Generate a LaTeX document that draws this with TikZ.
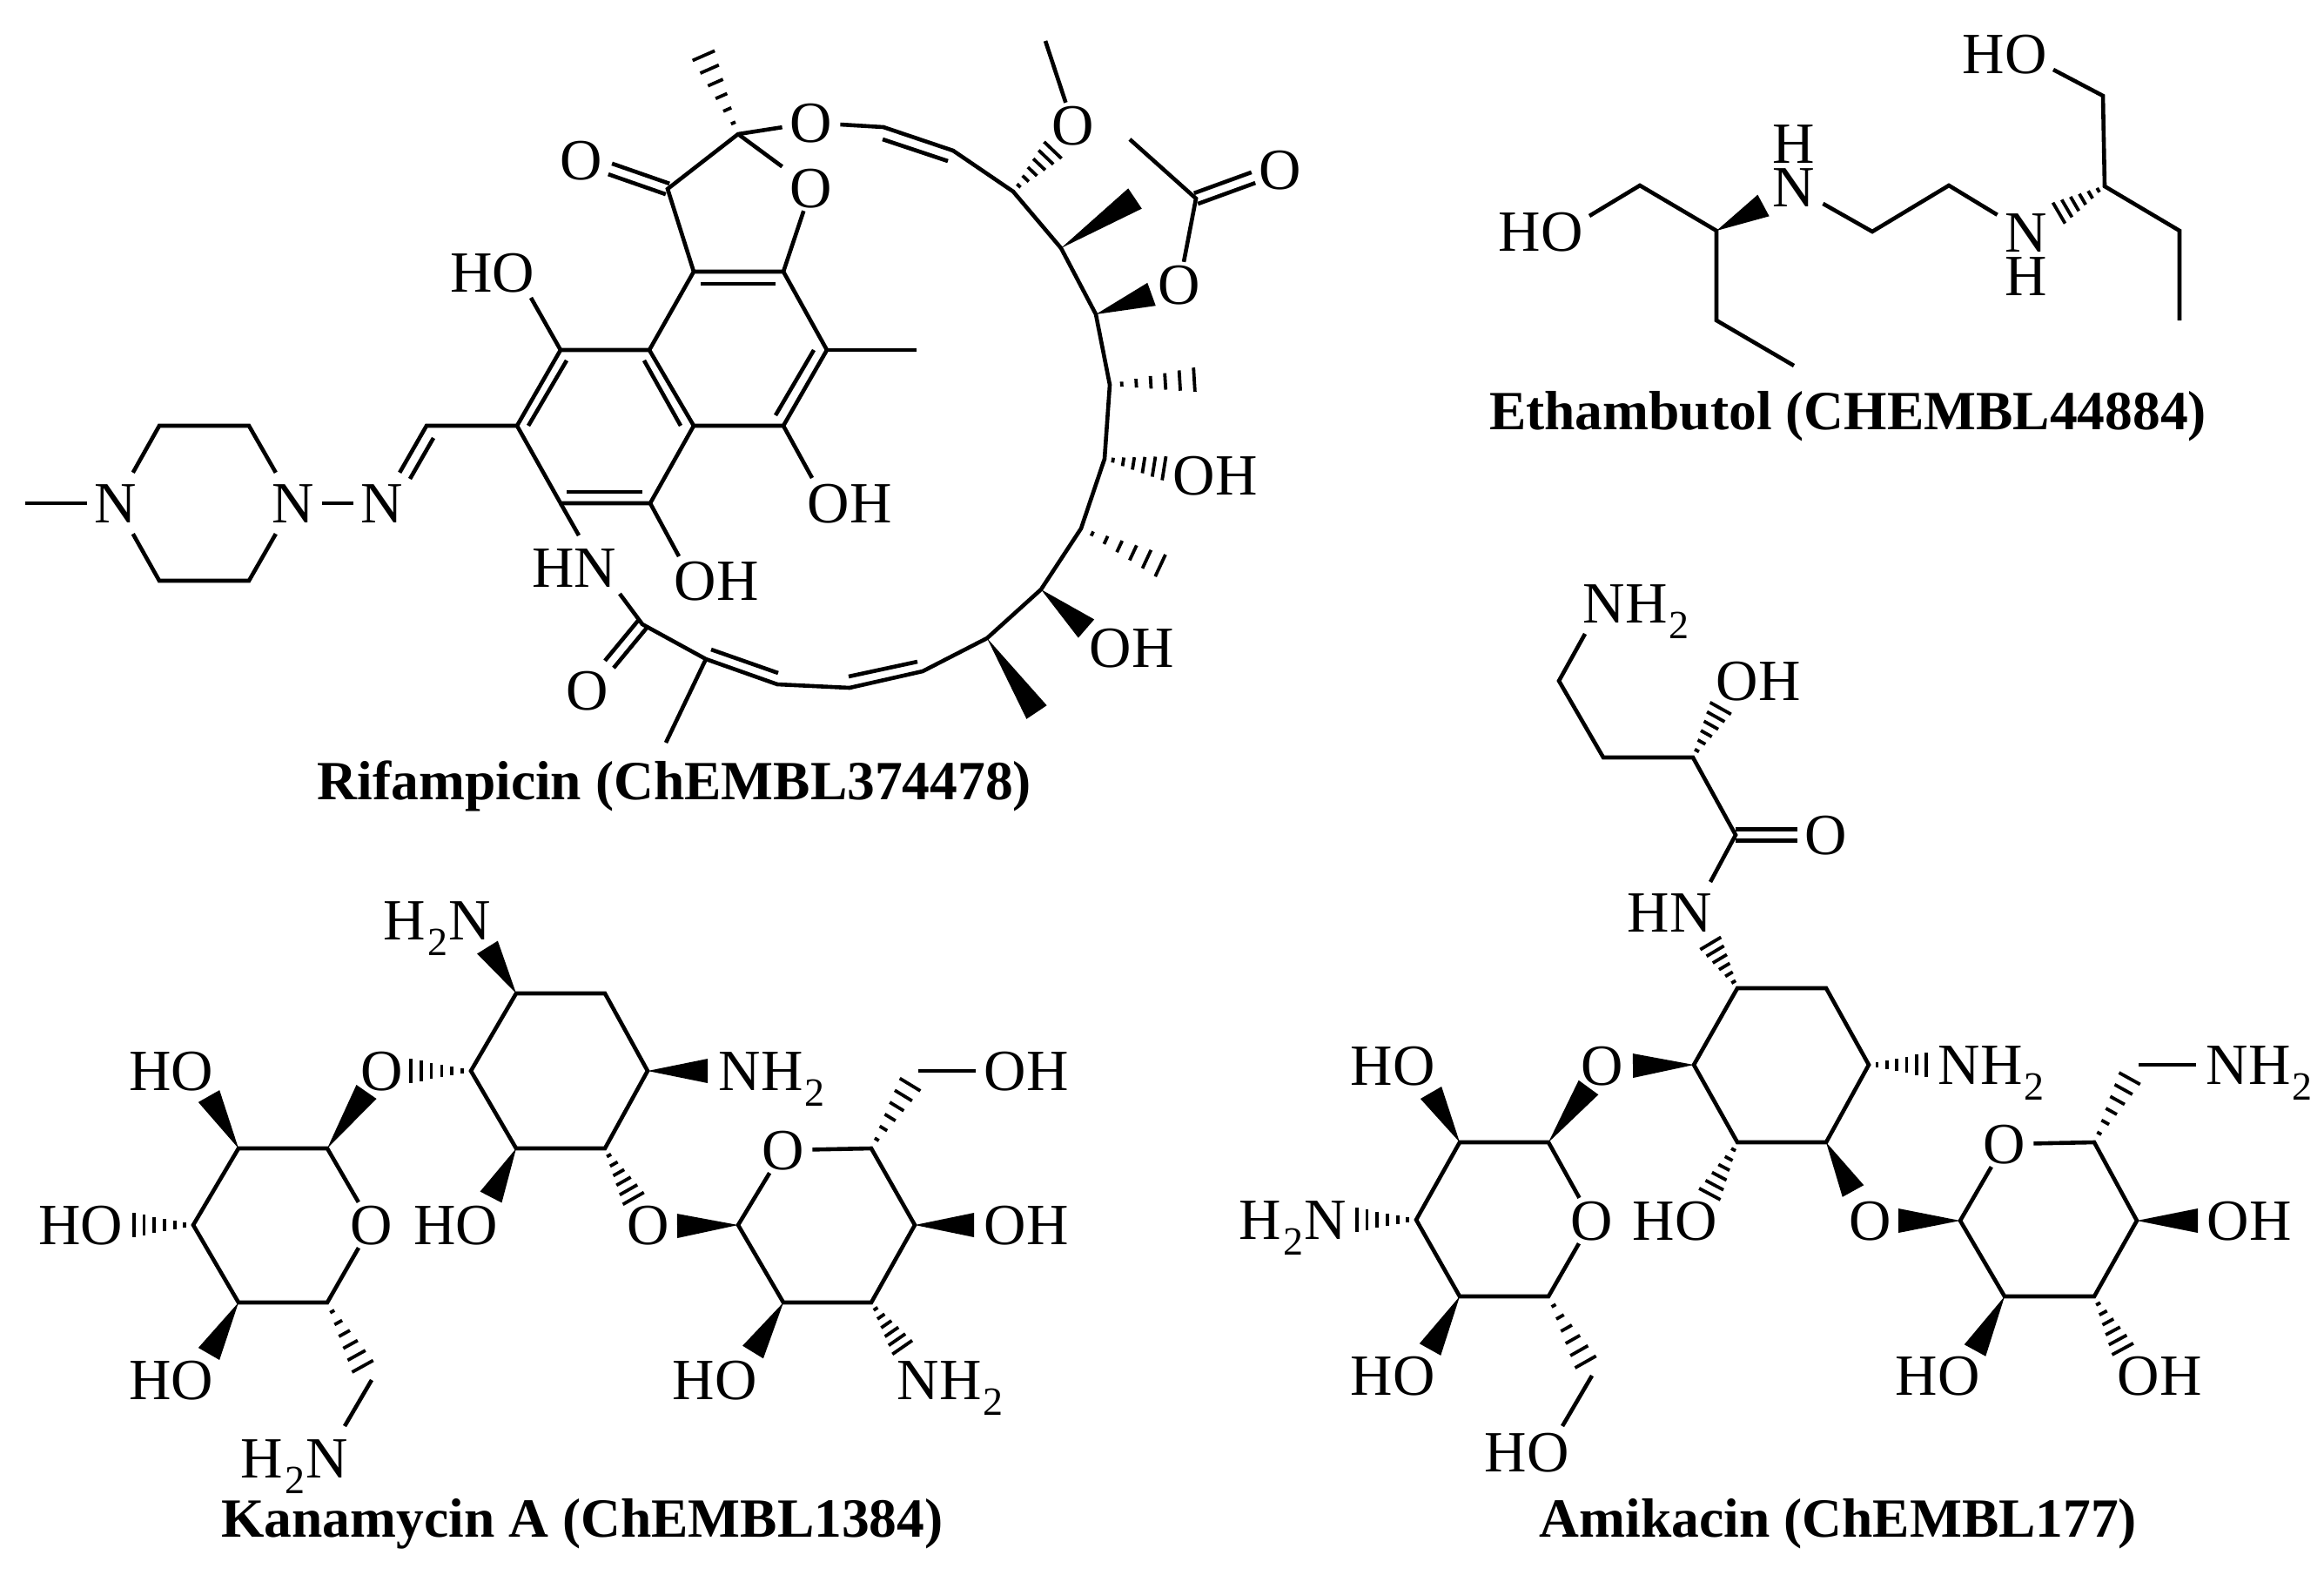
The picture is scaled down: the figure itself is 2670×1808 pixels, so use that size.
\documentclass[tikz,border=0pt]{standalone}
\usepackage{fontspec}
\setmainfont{Liberation Serif}
\usetikzlibrary{calc}

\newcommand{\subtwo}{\kern2pt\raisebox{-18pt}{\fontsize{46}{46}\selectfont 2}\kern1pt}
\newcommand{\wedgebond}[2]{\fill ($(#2)!14pt!90:(#1)$) -- (#1) -- ($(#2)!14pt!-90:(#1)$) -- cycle;}
\newcommand{\hashbond}[2]{%
    \foreach \t in {0.14,0.31,0.48,0.65,0.82,0.99} {
        \pgfmathsetmacro{\hw}{1+13*\t}
        \draw[hashline] ($(#1)!\t!(#2)!\hw pt!90:(#1)$) -- ($(#1)!\t!(#2)!\hw pt!-90:(#1)$);
    }}
\newcommand{\twinbond}[2]{%
    \draw[bond] ($(#1)!6.5pt!90:(#2)$) -- ($(#2)!6.5pt!-90:(#1)$);
    \draw[bond] ($(#1)!6.5pt!-90:(#2)$) -- ($(#2)!6.5pt!90:(#1)$);}

\tikzset{
    bond/.style={line width=4.6pt, line join=miter},
    hashline/.style={line width=3.8pt},
    atom/.style={inner xsep=9pt, inner ysep=4pt, text height=44pt, text depth=0pt, font=\fontsize{67}{67}\selectfont},
    atomn/.style={atom, inner ysep=13pt},
    title/.style={inner sep=0pt, anchor=base, font=\fontsize{63.5}{63.5}\selectfont\bfseries},
}

\begin{document}
\begin{tikzpicture}[x=1pt, y=-1pt]
    \useasboundingbox (0,0) rectangle (2670,1808);

    % rifampicin
    \coordinate (r1) at (767,217);
    \coordinate (r2) at (848,154);
    \coordinate (r3) at (1015,146);
    \coordinate (r4) at (1095,173);
    \coordinate (r5) at (1164,220);
    \coordinate (r6) at (1219,285);
    \coordinate (r7) at (1259,361);
    \coordinate (r8) at (1275,442);
    \coordinate (r9) at (1269,527);
    \coordinate (r10) at (1242,607);
    \coordinate (r11) at (1196,677);
    \coordinate (r12) at (1134,733);
    \coordinate (r13) at (1060,771);
    \coordinate (r14) at (976,790);
    \coordinate (r15) at (893,786);
    \coordinate (r16) at (811,757);
    \coordinate (r17) at (738,717);
    \coordinate (r20) at (797,312);
    \coordinate (r21) at (900,312);
    \coordinate (r22) at (950,402);
    \coordinate (r23) at (900,489);
    \coordinate (r24) at (797,489);
    \coordinate (r25) at (746,402);
    \coordinate (r26) at (644,402);
    \coordinate (r27) at (594,489);
    \coordinate (r28) at (644,578);
    \coordinate (r29) at (747,578);
    \coordinate (r30) at (490,489);
    \coordinate (p1) at (183,489);
    \coordinate (p2) at (286,489);
    \coordinate (p3) at (286,667);
    \coordinate (p4) at (183,667);
    \coordinate (rAc) at (1374,228);

    \node[atom] at (668,184) (rO0) {O};
    \node[atom] at (932,141) (rO1) {O};
    \node[atom] at (932,216) (rO2) {O};
    \node[atom] at (1233,144) (rO3) {O};
    \node[atom] at (1355,327) (rO4) {O};
    \node[atom] at (1471,195) (rO5) {O};
    \node[atom] at (675,793) (rO6) {O};
    \node[atom] at (566,313) (rOH1) {HO};
    \node[atom] at (976,578) (rOH2) {OH};
    \node[atom] at (823,667) (rOH3) {OH};
    \node[atom] at (1300,744) (rOH4) {OH};
    \node[atom] at (1396,546) (rOH5) {OH};
    \node[atom] at (660,652) (rNH) {HN};
    \node[atomn] at (133,578) (rN1) {N};
    \node[atomn] at (337,578) (rN2) {N};
    \node[atomn] at (439,578) (rN3) {N};

    \coordinate (rCO0) at (701,194);
    \coordinate (rCO5) at (1440,204);
    \coordinate (rCO6) at (700,763);
    \coordinate (rMe1) at (808,63);
    \coordinate (rMe2) at (1201,47);
    \coordinate (rMe3) at (1298,160);
    \coordinate (rMe4) at (1053,402);
    \coordinate (rMe5) at (1373,436);
    \coordinate (rMe6) at (1334,650);
    \coordinate (rMe7) at (1191,818);
    \coordinate (rMe8) at (765,853);
    \coordinate (rMe9) at (1304,228);
    \coordinate (rMe0) at (29,578);
    \coordinate (rHa1) at (1210,172);
    \coordinate (rWe1) at (1323,338);
    \coordinate (rWe2) at (1248,722);
    \coordinate (rHa2) at (1338,538);
    \coordinate (rE1) at (610,342);
    \coordinate (rE2) at (933,549);
    \coordinate (rE3) at (780,639);
    \coordinate (rE4) at (665,615);
    \coordinate (rE5) at (712,682);

    \coordinate (i1a) at (805,326);
    \coordinate (i1b) at (891,326);
    \coordinate (i2a) at (935,402);
    \coordinate (i2b) at (891,477);
    \coordinate (i3a) at (740,414);
    \coordinate (i3b) at (782,489);
    \coordinate (i4a) at (651,414);
    \coordinate (i4b) at (607,489);
    \coordinate (i5a) at (651,565);
    \coordinate (i5b) at (738,565);
    \coordinate (i6a) at (498,503);
    \coordinate (i6b) at (471,550);
    \coordinate (i7a) at (1014,160);
    \coordinate (i7b) at (1089,185);
    \coordinate (i8a) at (817,746);
    \coordinate (i8b) at (894,773);
    \coordinate (i9a) at (975,777);
    \coordinate (i9b) at (1054,760);

    \draw[bond] (r20) -- (r1) -- (r2) -- (rO1) -- (r3) -- (r4) -- (r5) -- (r6) -- (r7) -- (r8) -- (r9) -- (r10) -- (r11) -- (r12) -- (r13) -- (r14) -- (r15) -- (r16) -- (r17) -- (rE5);
    \draw[bond] (r2) -- (rO2) -- (r21);
    \draw[bond] (r20) -- (r21) -- (r22) -- (r23) -- (r24) -- (r25) -- cycle;
    \draw[bond] (r25) -- (r26) -- (r27) -- (r28) -- (r29) -- (r24);
    \draw[bond] (r22) -- (rMe4);
    \draw[bond] (r26) -- (rE1);
    \draw[bond] (r23) -- (rE2);
    \draw[bond] (r29) -- (rE3);
    \draw[bond] (r28) -- (rE4);
    \draw[bond] (r16) -- (rMe8);
    \draw[bond] (rO3) -- (rMe2);
    \draw[bond] (rO4) -- (rAc) -- (rMe3);
    \draw[bond] (rN3) -- (r30) -- (r27);
    \draw[bond] (rN2) -- (rN3);
    \draw[bond] (rMe0) -- (rN1);
    \draw[bond] (rN1) -- (p1) -- (p2) -- (rN2);
    \draw[bond] (rN1) -- (p4) -- (p3) -- (rN2);
    \foreach \n in {1,...,9} {
        \draw[bond] (i\n a) -- (i\n b);
    }
    \twinbond{r1}{rCO0}
    \twinbond{rAc}{rCO5}
    \twinbond{r17}{rCO6}
    \hashbond{r2}{rMe1}
    \hashbond{r5}{rHa1}
    \hashbond{r8}{rMe5}
    \hashbond{r9}{rHa2}
    \hashbond{r10}{rMe6}
    \wedgebond{r6}{rMe9}
    \wedgebond{r7}{rWe1}
    \wedgebond{r11}{rWe2}
    \wedgebond{r12}{rMe7}
    \node[title] at (775,918) (rName) {Rifampicin (ChEMBL374478)};

    % ethambutol
    \coordinate (e1) at (1884,213);
    \coordinate (e2) at (1972,265);
    \coordinate (e3) at (1972,368);
    \coordinate (e4) at (2061,420);
    \coordinate (e5) at (2151,266);
    \coordinate (e6) at (2239,213);
    \coordinate (e7) at (2418,214);
    \coordinate (e8) at (2416,110);
    \coordinate (e9) at (2504,265);
    \coordinate (e10) at (2504,368);
    \coordinate (eWe) at (2026,236);
    \coordinate (eHa) at (2365,245);
    \coordinate (eE1) at (1826,248);
    \coordinate (eE2) at (2359,80);
    \node[atom] at (1770,266) (eOH1) {HO};
    \node[atom] at (2303,62) (eOH2) {HO};
    \node[atom] at (2061,215) (eN1) {N};
    \node[atom] at (2061,165) (eH1) {H};
    \node[atom] at (2328,267) (eN2) {N};
    \node[atom] at (2328,317) (eH2) {H};
    \draw[bond] (eE1) -- (e1) -- (e2) -- (e3) -- (e4);
    \draw[bond] (eN1) -- (e5) -- (e6) -- (eN2);
    \draw[bond] (eE2) -- (e8) -- (e7) -- (e9) -- (e10);
    \wedgebond{e2}{eWe}
    \hashbond{e7}{eHa}
    \node[title] at (2123,493) (eName) {Ethambutol (CHEMBL44884)};

    % kanamycin
    \coordinate (k1) at (593,1141);
    \coordinate (k2) at (695,1141);
    \coordinate (k3) at (744,1230);
    \coordinate (k4) at (695,1319);
    \coordinate (k5) at (593,1319);
    \coordinate (k6) at (541,1230);
    \coordinate (kl1) at (376,1319);
    \coordinate (kl2) at (274,1319);
    \coordinate (kl3) at (222,1407);
    \coordinate (kl4) at (274,1496);
    \coordinate (kl5) at (376,1496);
    \coordinate (kr1) at (1001,1319);
    \coordinate (kr2) at (1051,1407);
    \coordinate (kr3) at (1001,1496);
    \coordinate (kr4) at (900,1496);
    \coordinate (kr5) at (848,1407);
    \node[atom] at (502,1057) (kN1) {H\subtwo N};
    \node[atom] at (887,1230) (kN2) {NH\subtwo};
    \node[atom] at (439,1230) (kO1) {O};
    \node[atom] at (427,1407) (kO2) {O};
    \node[atom] at (745,1407) (kO3) {O};
    \node[atom] at (900,1321) (kO4) {O};
    \node[atom] at (197,1230) (kOH1) {HO};
    \node[atom] at (93,1407) (kOH2) {HO};
    \node[atom] at (197,1585) (kOH3) {HO};
    \node[atom] at (524,1407) (kOH4) {HO};
    \node[atom] at (821,1585) (kOH5) {HO};
    \node[atom] at (1179,1230) (kOH6) {OH};
    \node[atom] at (1179,1407) (kOH7) {OH};
    \node[atom] at (338,1675) (kN3) {H\subtwo N};
    \node[atom] at (1092,1585) (kN4) {NH\subtwo};
    \coordinate (kW1) at (560,1088);
    \coordinate (kW2) at (421,1254);
    \coordinate (kW3) at (240,1259);
    \coordinate (kW4) at (240,1555);
    \coordinate (kW5) at (564,1375);
    \coordinate (kW6) at (778,1408);
    \coordinate (kW7) at (1119,1407);
    \coordinate (kW8) at (865,1553);
    \coordinate (kW9) at (813,1230);
    \coordinate (kH1) at (471,1230);
    \coordinate (kH2) at (153,1407);
    \coordinate (kH3) at (417,1570);
    \coordinate (kH4) at (728,1377);
    \coordinate (kH5) at (1037,1548);
    \coordinate (kH6) at (1046,1245);
    \coordinate (kC1) at (427,1585);
    \coordinate (kC2) at (396,1638);
    \coordinate (kC3) at (1055,1230);
    \draw[bond] (k1) -- (k2) -- (k3) -- (k4) -- (k5) -- (k6) -- cycle;
    \draw[bond] (kO2) -- (kl1) -- (kl2) -- (kl3) -- (kl4) -- (kl5) -- (kO2);
    \draw[bond] (kO4) -- (kr1) -- (kr2) -- (kr3) -- (kr4) -- (kr5) -- (kO4);
    \draw[bond] (kC1) -- (kC2);
    \draw[bond] (kC3) -- (kOH6);
    \wedgebond{k1}{kW1}
    \wedgebond{kl1}{kW2}
    \wedgebond{kl2}{kW3}
    \wedgebond{kl4}{kW4}
    \wedgebond{k5}{kW5}
    \wedgebond{kr5}{kW6}
    \wedgebond{kr2}{kW7}
    \wedgebond{kr4}{kW8}
    \wedgebond{k3}{kW9}
    \hashbond{k6}{kH1}
    \hashbond{kl3}{kH2}
    \hashbond{kl5}{kH3}
    \hashbond{k4}{kH4}
    \hashbond{kr3}{kH5}
    \hashbond{kr1}{kH6}
    \node[title] at (669,1765) (kName) {Kanamycin A (ChEMBL1384)};

    % amikacin
    \coordinate (a1) at (1996,1135);
    \coordinate (a2) at (2098,1135);
    \coordinate (a3) at (2147,1223);
    \coordinate (a4) at (2098,1312);
    \coordinate (a5) at (1996,1312);
    \coordinate (a6) at (1946,1223);
    \coordinate (al1) at (1779,1312);
    \coordinate (al2) at (1677,1312);
    \coordinate (al3) at (1627,1401);
    \coordinate (al4) at (1677,1489);
    \coordinate (al5) at (1779,1489);
    \coordinate (ar1) at (2406,1312);
    \coordinate (ar2) at (2455,1402);
    \coordinate (ar3) at (2406,1489);
    \coordinate (ar4) at (2303,1489);
    \coordinate (ar5) at (2252,1402);
    \coordinate (ac1) at (1994,959);
    \coordinate (ac2) at (1945,870);
    \coordinate (ac3) at (1842,870);
    \coordinate (ac4) at (1791,782);
    \coordinate (ac5) at (1821,728);
    \coordinate (ac6) at (1965,1013);
    \coordinate (aCO) at (2065,959);
    \node[atom] at (2098,959) (aO0) {O};
    \node[atom] at (1880,693) (aN0) {NH\subtwo};
    \node[atom] at (2020,782) (aOH0) {OH};
    \node[atom] at (1918,1048) (aNH) {HN};
    \node[atom] at (2288,1223) (aN1) {NH\subtwo};
    \node[atom] at (1485,1401) (aN2) {H\subtwo N};
    \node[atom] at (2596,1223) (aN3) {NH\subtwo};
    \node[atom] at (1841,1224) (aO1) {O};
    \node[atom] at (1829,1402) (aO2) {O};
    \node[atom] at (2149,1402) (aO3) {O};
    \node[atom] at (2303,1314) (aO4) {O};
    \node[atom] at (1600,1224) (aOH1) {HO};
    \node[atom] at (1600,1580) (aOH2) {HO};
    \node[atom] at (1754,1668) (aOH3) {HO};
    \node[atom] at (1924,1402) (aOH4) {HO};
    \node[atom] at (2226,1580) (aOH5) {HO};
    \node[atom] at (2481,1580) (aOH6) {OH};
    \node[atom] at (2584,1402) (aOH7) {OH};
    \coordinate (aW1) at (1876,1224);
    \coordinate (aW2) at (1825,1249);
    \coordinate (aW3) at (1644,1255);
    \coordinate (aW4) at (1643,1550);
    \coordinate (aW5) at (2129,1368);
    \coordinate (aW6) at (2181,1402);
    \coordinate (aW7) at (2525,1402);
    \coordinate (aW8) at (2269,1551);
    \coordinate (aH0) at (1977,813);
    \coordinate (aH1) at (1965,1083);
    \coordinate (aH2) at (2214,1223);
    \coordinate (aH3) at (1558,1401);
    \coordinate (aH4) at (1822,1565);
    \coordinate (aH5) at (1964,1372);
    \coordinate (aH6) at (2439,1550);
    \coordinate (aH7) at (2447,1238);
    \coordinate (aC1) at (1829,1580);
    \coordinate (aC2) at (1795,1638);
    \coordinate (aC3) at (2457,1223);
    \coordinate (aC4) at (2523,1223);
    \draw[bond] (a1) -- (a2) -- (a3) -- (a4) -- (a5) -- (a6) -- cycle;
    \draw[bond] (aO2) -- (al1) -- (al2) -- (al3) -- (al4) -- (al5) -- (aO2);
    \draw[bond] (aO4) -- (ar1) -- (ar2) -- (ar3) -- (ar4) -- (ar5) -- (aO4);
    \draw[bond] (ac6) -- (ac1) -- (ac2) -- (ac3) -- (ac4) -- (ac5);
    \draw[bond] (aC1) -- (aC2);
    \draw[bond] (aC3) -- (aC4);
    \twinbond{ac1}{aCO}
    \wedgebond{a6}{aW1}
    \wedgebond{al1}{aW2}
    \wedgebond{al2}{aW3}
    \wedgebond{al4}{aW4}
    \wedgebond{a4}{aW5}
    \wedgebond{ar5}{aW6}
    \wedgebond{ar2}{aW7}
    \wedgebond{ar4}{aW8}
    \hashbond{ac2}{aH0}
    \hashbond{a1}{aH1}
    \hashbond{a3}{aH2}
    \hashbond{al3}{aH3}
    \hashbond{al5}{aH4}
    \hashbond{a5}{aH5}
    \hashbond{ar3}{aH6}
    \hashbond{ar1}{aH7}
    \node[title] at (2112,1765) (aName) {Amikacin (ChEMBL177)};
\end{tikzpicture}
\end{document}
